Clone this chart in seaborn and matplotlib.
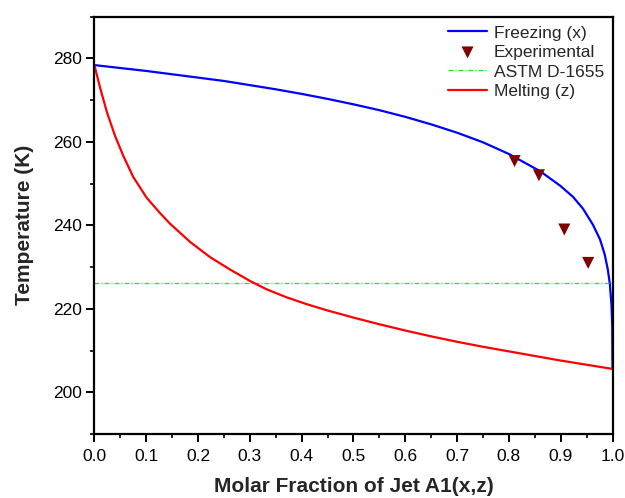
import numpy as np
import pandas as pd
import matplotlib
matplotlib.use("Agg")
import matplotlib.pyplot as plt
from matplotlib.ticker import MultipleLocator
import seaborn as sns

# Freezing curve (x)
freeze_x = [0.0, 0.05, 0.1, 0.15, 0.2, 0.25, 0.3, 0.35, 0.4, 0.45, 0.5, 0.55, 0.6, 0.65,
            0.7, 0.75, 0.8, 0.86, 0.899, 0.924, 0.943, 0.962, 0.976, 0.985, 0.991, 0.995,
            0.998, 0.9995, 1.0]
freeze_T = [278.4, 277.7, 277.0, 276.2, 275.4, 274.6, 273.6, 272.6, 271.5, 270.3, 269.0, 267.6,
            266.0, 264.2, 262.2, 259.9, 257.1, 253.0, 249.5, 246.8, 244.0, 240.2, 236.6, 233.0,
            229.4, 225.8, 221.0, 216.0, 205.6]

# Melting curve (z)
melt_x = [0.0, 0.011, 0.024, 0.040, 0.056, 0.075, 0.101, 0.127, 0.146, 0.185, 0.223, 0.262,
          0.3, 0.332, 0.37, 0.41, 0.45, 0.5, 0.55, 0.6, 0.65, 0.7, 0.75, 0.8, 0.85, 0.9,
          0.95, 1.0]
melt_T = [278.4, 273.0, 267.2, 261.4, 256.6, 251.6, 246.6, 242.9, 240.4, 236.0, 232.4, 229.4,
          226.7, 224.7, 222.8, 221.1, 219.6, 217.9, 216.3, 214.8, 213.4, 212.1, 210.9, 209.8,
          208.7, 207.6, 206.6, 205.6]

# Experimental points
exp_x = [0.811, 0.858, 0.907, 0.953]
exp_T = [255.4, 252.0, 239.0, 231.0]

# ASTM D-1655 limit
astm_x = [0.0, 1.0]
astm_T = [226.2, 226.2]

sns.set_style("ticks")
plt.rcParams['font.family'] = ['Liberation Sans', 'DejaVu Sans']

fig = plt.figure(figsize=(6.25, 4.98), dpi=100)
ax = fig.add_axes([0.151, 0.1285, 0.829, 0.838])

df_f = pd.DataFrame({"x": freeze_x, "T": freeze_T})
df_m = pd.DataFrame({"x": melt_x, "T": melt_T})
df_e = pd.DataFrame({"x": exp_x, "T": exp_T})
df_a = pd.DataFrame({"x": astm_x, "T": astm_T})

sns.lineplot(data=df_f, x="x", y="T", ax=ax, color="#0000ff", lw=1.6, sort=False,
             estimator=None, label="Freezing (x)")
sns.scatterplot(data=df_e, x="x", y="T", ax=ax, color="#800000", marker="v", s=75,
                edgecolor="none", label="Experimental", zorder=5)
sns.lineplot(data=df_a, x="x", y="T", ax=ax, color="#1ee81e", lw=0.9, sort=False,
             estimator=None, label="ASTM D-1655", dashes=False)
ax.lines[-1].set_dashes([4, 1.5, 1, 1.5])
sns.lineplot(data=df_m, x="x", y="T", ax=ax, color="#ff0000", lw=1.6, sort=False,
             estimator=None, label="Melting (z)")

ax.set_xlim(0, 1.0)
ax.set_ylim(190, 290)
ax.xaxis.set_major_locator(MultipleLocator(0.1))
ax.xaxis.set_minor_locator(MultipleLocator(0.05))
ax.yaxis.set_minor_locator(MultipleLocator(10))
ax.set_yticks([200, 220, 240, 260, 280])
ax.set_xticks(np.round(np.arange(0, 1.01, 0.1), 1))
ax.set_xticklabels([f"{v:.1f}" for v in np.arange(0, 1.01, 0.1)])

for s in ax.spines.values():
    s.set_linewidth(1.6)
    s.set_color("black")
    s.set_visible(True)
ax.tick_params(which="major", direction="out", length=6, width=1.4, labelsize=12.5,
               pad=3, colors="black")
ax.tick_params(which="minor", direction="out", length=3, width=1.2, colors="black")
ax.tick_params(axis="x", which="major", pad=5)

ax.set_xlabel("Molar Fraction of Jet A1(x,z)", fontsize=15, fontweight="bold", labelpad=9)
ax.set_ylabel("Temperature (K)", fontsize=15, fontweight="bold", labelpad=14)

leg = ax.legend(loc="upper right", bbox_to_anchor=(1.0, 1.0), frameon=False, fontsize=12.5,
                handlelength=2.3, handletextpad=0.35, labelspacing=0.25, borderaxespad=0.2,
                borderpad=0.3)

fig.savefig("out.png", dpi=100)
